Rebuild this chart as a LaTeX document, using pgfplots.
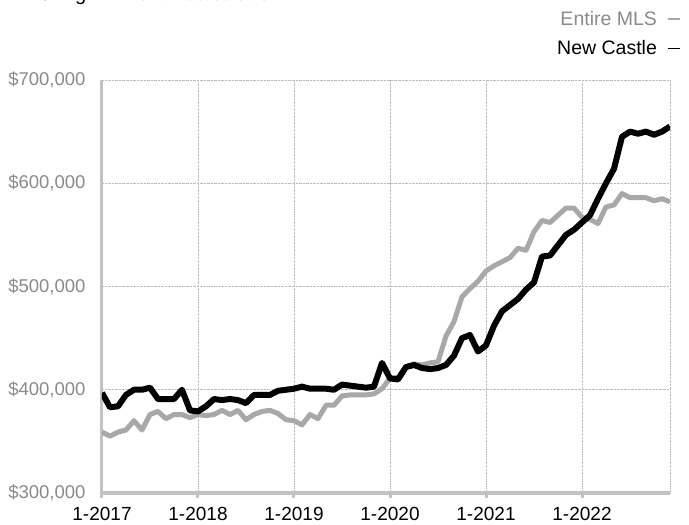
\documentclass[border=0pt]{standalone}
\usepackage{pgfplots}
\pgfplotsset{compat=1.18}
\usepackage{pgfplotstable}
\usepackage{fontspec}
\setmainfont{Liberation Sans}

\definecolor{mlsgray}{HTML}{A8A8A8}
\definecolor{axgray}{HTML}{C2C2C2}
\definecolor{gridgray}{HTML}{BDBDBD}
\definecolor{labgray}{HTML}{8A8A8A}

% month index (0 = 1-2017), value in $1000
\pgfplotstableread{
m mls newcastle
0 359 397
1 355 383
2 359 384
3 361 395
4 370 400
5 361 400
6 376 402
7 379 391
8 372 391
9 376 391
10 376 400
11 373 380
12 376 379
13 375 384
14 376 391
15 380 390
16 376 391
17 380 390
18 371 387
19 376 395
20 379 395
21 380 395
22 377 399
23 371 400
24 370 401
25 366 403
26 376 401
27 372 401
28 385 401
29 385 400
30 394 405
31 395 404
32 395 403
33 395 402
34 396 403
35 401 426
36 411 411
37 412 410
38 422 422
39 425 424
40 424 421
41 426 420
42 427 421
43 452 424
44 466 433
45 490 450
46 498 453
47 505 437
48 515 443
49 520 462
50 524 476
51 528 482
52 537 488
53 535 497
54 553 504
55 564 529
56 562 530
57 569 540
58 576 550
59 576 555
60 567 562
61 565 569
62 561 585
63 577 600
64 579 614
65 590 645
66 586 650
67 586 648
68 586 650
69 583 647
70 585 650
71 582 655
}\prices

\begin{document}
\begin{tikzpicture}
\begin{axis}[
    at={(0,0)}, anchor=south west,
    scale only axis,
    width=568bp, height=413bp,
    xmin=0, xmax=71,
    ymin=300, ymax=700,
    axis lines=left,
    axis line style={-, line width=3bp, color=axgray},
    xtick={0,12,24,36,48,60},
    xticklabels={1-2017,1-2018,1-2019,1-2020,1-2021,1-2022},
    ytick={300,400,500,600,700},
    yticklabels={{\$300,000},{\$400,000},{\$500,000},{\$600,000},{\$700,000}},
    extra x ticks={71},
    extra x tick labels={},
    extra x tick style={grid=major, major tick length=0pt},
    grid=major,
    major grid style={densely dotted, line width=0.8bp, color=gridgray},
    tick align=outside,
    major tick length=5bp,
    xtick style={line width=3bp, color=axgray},
    ytick style={draw=none},
    xticklabel style={font=\fontsize{19bp}{22bp}\selectfont, text=black, yshift=-6bp},
    yticklabel style={font=\fontsize{18.5bp}{21bp}\selectfont, text=labgray, xshift=-8bp},
    legend plot pos=right,
    legend cell align=right,
    legend style={draw=none, fill=none, at={(1.019,1.172)}, anchor=north east,
      font=\fontsize{19.5bp}{22bp}\selectfont, row sep=10bp, inner sep=0pt},
    legend image code/.code={\path (0bp,0bp); \draw[#1, line width=1.3bp] (6bp,0bp) -- (18bp,0bp);},
    line join=round,
]
\addplot[color=mlsgray, line width=5bp] table[x=m, y=mls] {\prices};
\addlegendentry{\textcolor{labgray}{Entire MLS}}
\addplot[color=black, line width=6bp] table[x=m, y=newcastle] {\prices};
\addlegendentry{New Castle}
\end{axis}
\pgfresetboundingbox
\path[use as bounding box] (-102bp,-32bp) rectangle (587bp,493bp);
\node[anchor=base west, inner sep=0pt, font=\fontsize{20bp}{22bp}\selectfont]
  at (-77bp,492.5bp) {Rolling \textcolor{labgray}{12-Month Calculation}};
\end{tikzpicture}
\end{document}
